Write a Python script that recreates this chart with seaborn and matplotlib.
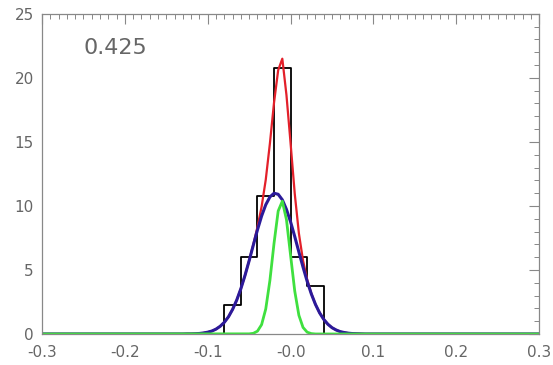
import matplotlib
matplotlib.use('Agg')
import matplotlib.pyplot as plt
from matplotlib.ticker import MultipleLocator, FixedLocator, FixedFormatter
import seaborn as sns

# histogram (bin edges and heights)
bin_edges = [-0.10, -0.08, -0.06, -0.04, -0.02, 0.00, 0.02, 0.04, 0.06]
bin_heights = [0, 2.25, 6.0, 10.8, 20.75, 6.0, 3.75, 0]

# curves
curve_x = [-0.30, -0.13, -0.125, -0.12, -0.115, -0.11, -0.105, -0.10, -0.095, -0.09,
           -0.085, -0.08, -0.075, -0.07, -0.065, -0.06, -0.055, -0.05, -0.045, -0.04,
           -0.035, -0.03, -0.025, -0.02, -0.015, -0.01, -0.005, 0.0, 0.005, 0.01,
           0.015, 0.02, 0.025, 0.03, 0.035, 0.04, 0.045, 0.05, 0.055, 0.06,
           0.065, 0.07, 0.075, 0.08, 0.085, 0.09, 0.30]
blue_y = [0, 0.00, 0.01, 0.01, 0.02, 0.04, 0.08, 0.14, 0.23, 0.38,
          0.60, 0.91, 1.34, 1.92, 2.65, 3.54, 4.58, 5.73, 6.94, 8.13,
          9.21, 10.09, 10.70, 10.99, 10.91, 10.48, 9.73, 8.75, 7.61, 6.40,
          5.22, 4.11, 3.13, 2.31, 1.65, 1.14, 0.76, 0.49, 0.31, 0.18,
          0.11, 0.06, 0.03, 0.02, 0.01, 0.00, 0]
red_y = [0, 0.00, 0.01, 0.01, 0.02, 0.04, 0.08, 0.14, 0.23, 0.38,
         0.60, 0.91, 1.34, 1.92, 2.65, 3.54, 4.58, 5.74, 6.99, 8.35,
         9.94, 12.04, 14.87, 18.07, 20.6, 21.5, 18.66, 14.88, 10.96, 7.86,
         5.73, 4.25, 3.16, 2.31, 1.65, 1.14, 0.76, 0.49, 0.31, 0.18,
         0.11, 0.06, 0.03, 0.02, 0.01, 0.00, 0]
green_x = [-0.30, -0.05, -0.045, -0.04, -0.035, -0.03, -0.025, -0.02, -0.015, -0.01,
           -0.005, 0.0, 0.005, 0.01, 0.015, 0.02, 0.025, 0.03, 0.30]
green_y = [0, 0.01, 0.05, 0.22, 0.73, 1.95, 4.17, 7.08, 9.60, 10.37,
           8.93, 6.13, 3.35, 1.46, 0.51, 0.14, 0.03, 0, 0]

x_ticks = [-0.3, -0.2, -0.1, 0.0, 0.1, 0.2, 0.3]
x_labels = ['-0.3', '-0.2', '-0.1', '-0.0', '0.1', '0.2', '0.3']
y_ticks = [0, 5, 10, 15, 20, 25]
label_text = '0.425'

sns.set_style('white')
plt.rcParams['font.family'] = ['DejaVu Sans']

fig = plt.figure(figsize=(5.53, 3.65), dpi=100)
ax = fig.add_axes([0.076, 0.085, 0.899, 0.877])

centers = [(a + b) / 2 for a, b in zip(bin_edges[:-1], bin_edges[1:])]
sns.histplot(x=centers, weights=bin_heights, bins=bin_edges, element='step',
             fill=False, color='black', linewidth=1.3, ax=ax)
sns.lineplot(x=curve_x, y=red_y, color='#e3202a', linewidth=1.6, estimator=None, ax=ax)
sns.lineplot(x=curve_x, y=blue_y, color='#2b1a9a', linewidth=2.2, estimator=None, ax=ax)
sns.lineplot(x=green_x, y=green_y, color='#3fe03f', linewidth=2.0, estimator=None, ax=ax)

ax.set_xlim(-0.3, 0.3)
ax.set_ylim(0, 25)
ax.set_xlabel('')
ax.set_ylabel('')

ax.xaxis.set_major_locator(FixedLocator(x_ticks))
ax.xaxis.set_major_formatter(FixedFormatter(x_labels))
ax.xaxis.set_minor_locator(MultipleLocator(0.01))
ax.yaxis.set_major_locator(FixedLocator(y_ticks))
ax.yaxis.set_minor_locator(MultipleLocator(1))

grey = '#666666'
ax.tick_params(which='both', direction='in', top=True, right=True, colors='#888888',
               labelcolor=grey, labelsize=11)
ax.tick_params(which='major', length=7, width=0.8)
ax.tick_params(which='minor', length=3.5, width=0.7)
ax.tick_params(axis='x', pad=8)
ax.tick_params(axis='y', pad=6)
for s in ax.spines.values():
    s.set_color('#888888')
    s.set_linewidth(0.9)

ax.text(-0.25, 22.3, label_text, fontsize=16, color=grey, va='center', ha='left')

fig.savefig('out.png', dpi=100)
